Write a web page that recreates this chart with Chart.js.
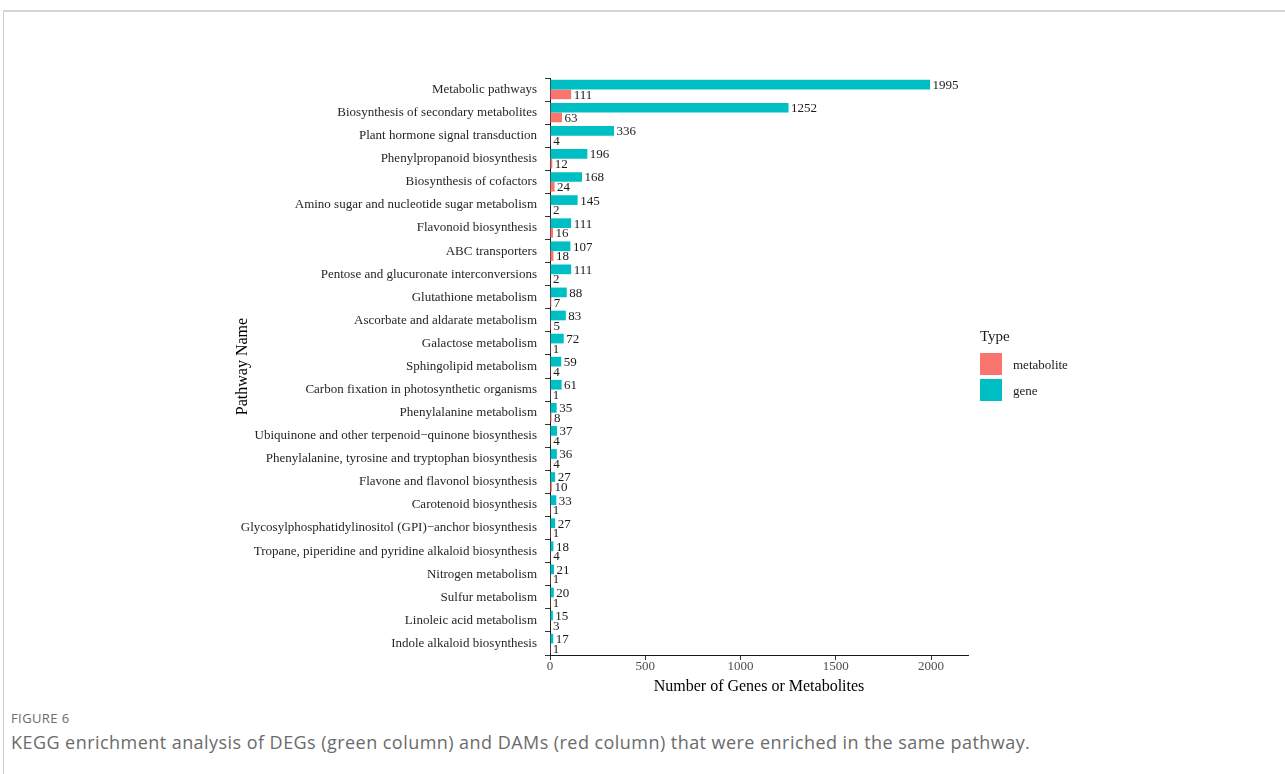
<!DOCTYPE html>
<html>
<head>
<meta charset="utf-8">
<script src="https://cdn.jsdelivr.net/npm/chart.js@4.4.0/dist/chart.umd.min.js"></script>
<style>
  body { margin: 0; background: #fff; width: 1285px; height: 774px; overflow: hidden; position: relative; }
  #frame { position: absolute; left: 3px; top: 10px; width: 1290px; height: 800px; border-top: 2px solid #d6d6d6; border-left: 1px solid #d0d0d0; }
  #wrap { position: absolute; left: 0; top: 0; width: 1285px; height: 700px; }
  .leg { position: absolute; font-family: "Liberation Serif", serif; color: #1a1a1a; }
  .key { position: absolute; width: 22px; height: 22px; }
  #fig { position: absolute; left: 11px; top: 709px; font-family: "Open Sans", sans-serif; font-size: 13px; color: #6b6b6b; letter-spacing: 0.4px; }
  #cap { position: absolute; left: 11px; top: 730px; font-family: "Open Sans", sans-serif; font-size: 18px; color: #6b6b6b; letter-spacing: 0.45px; white-space: nowrap; }
</style>
</head>
<body>
<div id="frame"></div>
<div id="wrap"><canvas id="keggChart" width="1285" height="700"></canvas></div>

<div class="leg" style="left:980px; top:328px; font-size:15px;">Type</div>
<div class="key" id="keyMet" style="left:980px; top:353px;"></div>
<div class="key" id="keyGene" style="left:980px; top:379px;"></div>
<div class="leg" style="left:1013px; top:357px; font-size:13px;">metabolite</div>
<div class="leg" style="left:1013px; top:383px; font-size:13px;">gene</div>

<div id="fig">FIGURE 6</div>
<div id="cap">KEGG enrichment analysis of DEGs (green column) and DAMs (red column) that were enriched in the same pathway.</div>

<script>
const PATHWAYS = [
    'Metabolic pathways',
    'Biosynthesis of secondary metabolites',
    'Plant hormone signal transduction',
    'Phenylpropanoid biosynthesis',
    'Biosynthesis of cofactors',
    'Amino sugar and nucleotide sugar metabolism',
    'Flavonoid biosynthesis',
    'ABC transporters',
    'Pentose and glucuronate interconversions',
    'Glutathione metabolism',
    'Ascorbate and aldarate metabolism',
    'Galactose metabolism',
    'Sphingolipid metabolism',
    'Carbon fixation in photosynthetic organisms',
    'Phenylalanine metabolism',
    'Ubiquinone and other terpenoid\u2212quinone biosynthesis',
    'Phenylalanine, tyrosine and tryptophan biosynthesis',
    'Flavone and flavonol biosynthesis',
    'Carotenoid biosynthesis',
    'Glycosylphosphatidylinositol (GPI)\u2212anchor biosynthesis',
    'Tropane, piperidine and pyridine alkaloid biosynthesis',
    'Nitrogen metabolism',
    'Sulfur metabolism',
    'Linoleic acid metabolism',
    'Indole alkaloid biosynthesis'
];

const GENE = [1995, 1252, 336, 196, 168, 145, 111, 107, 111, 88, 83, 72, 59, 61, 35, 37, 36, 27, 33, 27, 18, 21, 20, 15, 17];
const METABOLITE = [111, 63, 4, 12, 24, 2, 16, 18, 2, 7, 5, 1, 4, 1, 8, 4, 4, 10, 1, 1, 4, 1, 1, 3, 1];

const X_TICKS = [0, 500, 1000, 1500, 2000];

const GENE_COLOR = '#00BFC4';
const MET_COLOR = '#F8766D';

document.getElementById('keyMet').style.background = MET_COLOR;
document.getElementById('keyGene').style.background = GENE_COLOR;

// value text at the end of each bar
const barLabels = {
    id: 'barLabels',
    afterDatasetsDraw(chart) {
        const ctx = chart.ctx;
        ctx.save();
        ctx.font = '13px "Liberation Serif"';
        ctx.fillStyle = '#1a1a1a';
        ctx.textBaseline = 'middle';
        ctx.textAlign = 'left';
        chart.data.datasets.forEach((ds, i) => {
            chart.getDatasetMeta(i).data.forEach((bar, j) => {
                ctx.fillText(ds.data[j], bar.x + 2.5, bar.y + 1);
            });
        });
        ctx.restore();
    }
};

const ctx = document.getElementById('keggChart');

new Chart(ctx, {
    type: 'bar',
    data: {
        labels: PATHWAYS,
        datasets: [{
            label: 'gene',
            data: GENE,
            backgroundColor: GENE_COLOR,
            categoryPercentage: 0.84,
            barPercentage: 1
        }, {
            label: 'metabolite',
            data: METABOLITE,
            backgroundColor: MET_COLOR,
            categoryPercentage: 0.84,
            barPercentage: 1
        }]
    },
    options: {
        indexAxis: 'y',
        responsive: false,
        animation: false,
        layout: {
            padding: { left: 225, top: 78, right: 317, bottom: 0 }
        },
        plugins: {
            legend: { display: false },
            tooltip: { enabled: false }
        },
        scales: {
            x: {
                type: 'linear',
                min: 0,
                max: 2194,
                afterBuildTicks: (scale) => { scale.ticks = X_TICKS.map(v => ({ value: v })); },
                afterFit: (scale) => { scale.height = 45; },
                border: { display: true, color: '#1a1a1a', width: 1 },
                grid: { drawOnChartArea: false, drawTicks: true, tickLength: 5, tickColor: '#333' },
                ticks: {
                    padding: 0,
                    color: '#4d4d4d',
                    font: { family: 'Liberation Serif', size: 13, lineHeight: 1 },
                    maxRotation: 0,
                    callback: (v) => String(v)
                },
                title: {
                    display: true,
                    text: 'Number of Genes or Metabolites',
                    color: '#000',
                    font: { family: 'Liberation Serif', size: 16 },
                    padding: { top: 0, bottom: 4 }
                }
            },
            y: {
                afterFit: (scale) => { scale.width = 325; },
                border: { display: true, color: '#1a1a1a', width: 1 },
                grid: { drawOnChartArea: false, drawTicks: true, tickLength: 5, tickColor: '#333' },
                ticks: {
                    padding: 8,
                    color: '#262626',
                    autoSkip: false,
                    font: { family: 'Liberation Serif', size: 13 }
                },
                title: {
                    display: true,
                    text: 'Pathway Name',
                    color: '#000',
                    font: { family: 'Liberation Serif', size: 16 },
                    padding: { top: 8, bottom: 0 }
                }
            }
        }
    },
    plugins: [barLabels]
});
</script>
</body>
</html>
